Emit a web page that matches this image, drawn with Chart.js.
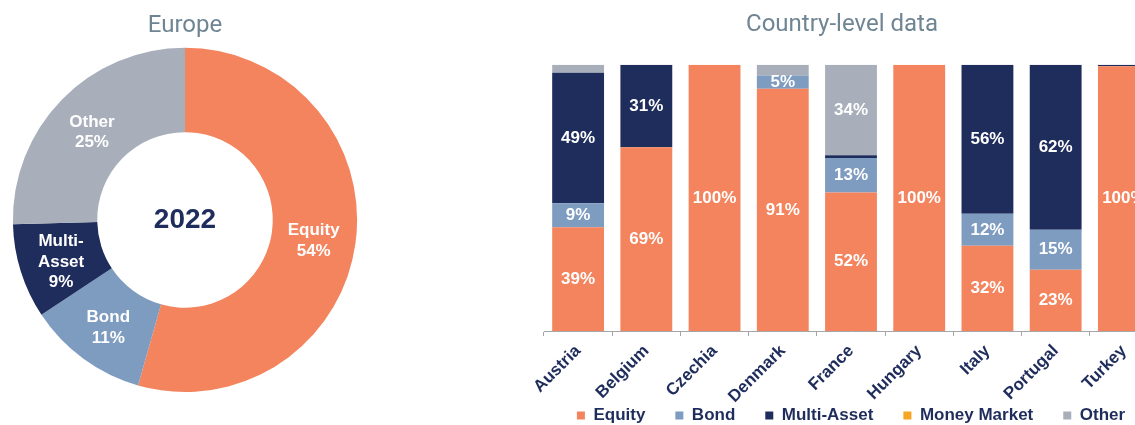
<!DOCTYPE html>
<html>
<head>
<meta charset="utf-8">
<script src="https://cdn.jsdelivr.net/npm/chart.js@4"></script>
<style>
  body { margin: 0; width: 1135px; height: 425px; overflow: hidden; position: relative; background: #fff; }
  .box { position: absolute; top: 0; }
</style>
</head>
<body>
<div class="box" style="left:0;width:370px;height:425px"><canvas id="pie"></canvas></div>
<!-- el lienzo de barras sobresale por la derecha y por abajo, como en el original recortado -->
<div class="box" style="left:526px;width:632px;height:434px"><canvas id="bars"></canvas></div>
<script>
const pieLabels = ['Equity', 'Bond', 'Multi-Asset', 'Other'];
const pieValues = [54.4, 11.3, 8.9, 25.4];
const pieYear = '2022';

// Datos por país (porcentajes)
const countries = ['Austria', 'Belgium', 'Czechia', 'Denmark', 'France', 'Hungary', 'Italy', 'Portugal', 'Turkey'];
const equity      = [39, 69, 100, 91, 52, 100, 32, 23, 99.5];
const bond        = [9, 0, 0, 5, 13, 0, 12, 15, 0];
const multiAsset  = [49, 31, 0, 0, 1, 0, 56, 62, 0.5];
const moneyMarket = [0, 0, 0, 0, 0, 0, 0, 0, 0];
const other       = [3, 0, 0, 4, 34, 0, 0, 0, 0];

const colores = {
  'Equity': '#F3845E',
  'Bond': '#7E9BC0',
  'Multi-Asset': '#1F2D5C',
  'Money Market': '#F5A623',
  'Other': '#A8AFBB'
};
const navy = '#1F2D5C';
const grisTitulo = '#6F8593';
const fuente = "'Liberation Sans', Arial, sans-serif";

Chart.defaults.font.family = fuente;
Chart.defaults.animation = false;

// Etiquetas blancas dentro de los segmentos de la dona
const etiquetasDona = {
  id: 'etiquetasDona',
  afterDatasetsDraw(chart) {
    const ctx = chart.ctx;
    const meta = chart.getDatasetMeta(0);
    ctx.save();
    ctx.fillStyle = '#fff';
    ctx.font = 'bold 17px ' + fuente;
    ctx.textAlign = 'center';
    ctx.textBaseline = 'middle';
    meta.data.forEach((arc, i) => {
      const p = arc.tooltipPosition();
      const nombre = pieLabels[i] === 'Multi-Asset' ? ['Multi-', 'Asset'] : [pieLabels[i]];
      const lineas = nombre.concat([Math.round(pieValues[i]) + '%']);
      const alto = 20.5;
      lineas.forEach((t, k) => {
        ctx.fillText(t, p.x, p.y + 3 + (k - (lineas.length - 1) / 2) * alto);
      });
    });
    // año en el centro
    const a = chart.chartArea;
    ctx.fillStyle = navy;
    ctx.font = 'bold 28px ' + fuente;
    ctx.fillText(pieYear, (a.left + a.right) / 2, (a.top + a.bottom) / 2);
    ctx.restore();
  }
};

new Chart(document.getElementById('pie'), {
  type: 'doughnut',
  data: {
    labels: pieLabels,
    datasets: [{
      data: pieValues,
      backgroundColor: pieLabels.map(l => colores[l]),
      borderWidth: 0
    }]
  },
  options: {
    responsive: true,
    maintainAspectRatio: false,
    cutout: '51%',
    layout: { padding: { bottom: 33 } },
    plugins: {
      legend: { display: false },
      tooltip: { enabled: false },
      title: {
        display: true,
        text: 'Europe',
        color: grisTitulo,
        font: { family: 'Roboto', size: 24, weight: 'normal' },
        padding: { top: 12, bottom: 7 }
      }
    }
  },
  plugins: [etiquetasDona]
});

// Etiquetas de porcentaje dentro de las barras (solo si >= 5%)
const etiquetasBarras = {
  id: 'etiquetasBarras',
  afterDatasetsDraw(chart) {
    const ctx = chart.ctx;
    ctx.save();
    ctx.fillStyle = '#fff';
    ctx.font = 'bold 17px ' + fuente;
    ctx.textAlign = 'center';
    ctx.textBaseline = 'middle';
    chart.data.datasets.forEach((ds, di) => {
      const meta = chart.getDatasetMeta(di);
      meta.data.forEach((bar, i) => {
        const v = ds.data[i];
        if (v < 5) return;
        const y = (bar.y + bar.base) / 2;
        ctx.fillText(Math.round(v) + '%', bar.x, y);
      });
    });
    ctx.restore();
  }
};

const series = [
  ['Equity', equity],
  ['Bond', bond],
  ['Multi-Asset', multiAsset],
  ['Money Market', moneyMarket],
  ['Other', other]
];

new Chart(document.getElementById('bars'), {
  type: 'bar',
  data: {
    labels: countries,
    datasets: series.map(([nombre, valores]) => ({
      label: nombre,
      data: valores,
      backgroundColor: colores[nombre],
      borderWidth: 0,
      barPercentage: 0.76,
      categoryPercentage: 1
    }))
  },
  options: {
    responsive: true,
    maintainAspectRatio: false,
    layout: { padding: 0 },
    scales: {
      x: {
        stacked: true,
        grid: {
          drawOnChartArea: false,
          drawTicks: true,
          tickLength: 5,
          color: '#A6A6A6'
        },
        border: { display: true, color: '#A6A6A6' },
        ticks: {
          color: navy,
          font: { size: 17, weight: 'bold' },
          minRotation: 45,
          maxRotation: 45,
          padding: 5
        },
        afterFit(scale) {
          // eje más bajo que las etiquetas giradas, que invaden el espacio de la leyenda
          scale.height = 46;
          scale._computeLabelArea = () => undefined;
        }
      },
      y: {
        stacked: true,
        display: true,
        min: 0,
        max: 100,
        ticks: { display: false },
        grid: { display: false },
        border: { display: false },
        afterFit(scale) { scale.width = 18; }
      }
    },
    plugins: {
      tooltip: { enabled: false },
      title: {
        display: true,
        text: 'Country-level data',
        color: grisTitulo,
        font: { family: 'Roboto', size: 24, weight: 'normal' },
        padding: { top: 11, bottom: 25 }
      },
      legend: {
        position: 'bottom',
        fullSize: false,
        labels: {
          color: navy,
          font: { size: 17, weight: 'bold' },
          boxWidth: 8,
          boxHeight: 8,
          padding: 30
        }
      }
    }
  },
  plugins: [etiquetasBarras]
});
</script>
</body>
</html>
